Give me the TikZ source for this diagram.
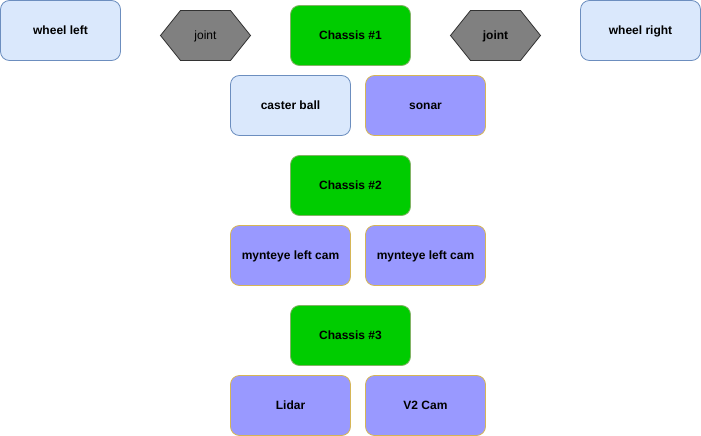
\documentclass[tikz,border=0pt]{standalone}
\usepackage{fontspec}
\setmainfont{Liberation Sans}
\usetikzlibrary{shapes.geometric}
\definecolor{bluefill}{HTML}{DAE8FC}
\definecolor{blueline}{HTML}{6C8EBF}
\definecolor{greenfill}{HTML}{00CC00}
\definecolor{greenline}{HTML}{82B366}
\definecolor{purplefill}{HTML}{9999FF}
\definecolor{purpleline}{HTML}{D6B656}
\definecolor{jointfill}{HTML}{808080}
\definecolor{jointline}{HTML}{333333}
\begin{document}
\begin{tikzpicture}[x=1pt,y=-1pt,
  box/.style={rectangle,rounded corners=9pt,minimum width=120pt,minimum height=60pt,inner sep=0pt,line width=0.8pt,font=\fontsize{12}{14}\selectfont\bfseries,text height=9.5pt,text depth=2pt},
  bluebox/.style={box,fill=bluefill,draw=blueline},
  greenbox/.style={box,fill=greenfill,draw=greenline},
  purplebox/.style={box,fill=purplefill,draw=purpleline},
  jointshape/.style={fill=jointfill,draw=jointline,line width=0.8pt,line join=miter},
  jointtext/.style={inner sep=0pt,text height=9.5pt,text depth=2pt}
]
\useasboundingbox (0,0) rectangle (701,436);
\node[bluebox] (wl) at (60.5,30.5) {wheel left};
\node[bluebox] (wr) at (640.5,30.5) {wheel right};
\node[greenbox] (c1) at (350.5,35.5) {Chassis \#1};
\node[bluebox] (cb) at (290.5,105.5) {caster ball};
\node[purplebox] (so) at (425.5,105.5) {sonar};
\node[greenbox] (c2) at (350.5,185.5) {Chassis \#2};
\node[purplebox] (ml) at (290.5,255.5) {mynteye left cam};
\node[purplebox] (mr) at (425.5,255.5) {mynteye left cam};
\node[greenbox] (c3) at (350.5,335.5) {Chassis \#3};
\node[purplebox] (li) at (290.5,405.5) {Lidar};
\node[purplebox] (v2) at (425.5,405.5) {V2 Cam};
% joints
\draw[jointshape] (160.5,35.5) -- (180.5,10.5) -- (230.5,10.5) -- (250.5,35.5) -- (230.5,60.5) -- (180.5,60.5) -- cycle;
\node[jointtext,font=\fontsize{12}{14}\selectfont] (jl) at (205.5,35.5) {joint};
\draw[jointshape] (450.5,35.5) -- (470.5,10.5) -- (520.5,10.5) -- (540.5,35.5) -- (520.5,60.5) -- (470.5,60.5) -- cycle;
\node[jointtext,font=\fontsize{12}{14}\selectfont\bfseries] (jr) at (495.5,35.5) {joint};
\end{tikzpicture}
\end{document}
